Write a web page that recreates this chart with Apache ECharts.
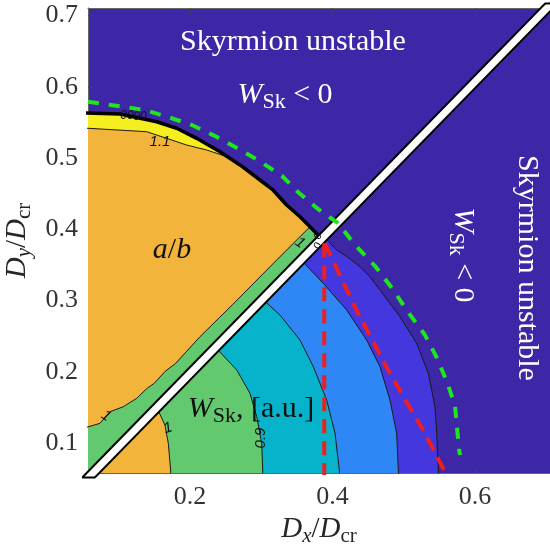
<!DOCTYPE html>
<html>
<head>
<meta charset="utf-8">
<script src="https://cdn.jsdelivr.net/npm/echarts@6/dist/echarts.min.js"></script>
<style>
  html, body { margin: 0; padding: 0; background: #fff; }
  #chart { width: 550px; height: 549px; }
</style>
</head>
<body>
<div id="chart"></div>
<script>
const xTicks = [0.2, 0.4, 0.6];
const yTicks = [0.1, 0.2, 0.3, 0.4, 0.5, 0.6, 0.7];

// contour bands below the diagonal, each arc runs from the diagonal down to the bottom edge
const arcPurple = [[0.389, 0.389], [0.4059, 0.3709], [0.42, 0.362], [0.4386, 0.3475], [0.452, 0.334], [0.4667, 0.3148],
  [0.4948, 0.2773], [0.5182, 0.24], [0.5345, 0.1979], [0.5439, 0.151], [0.5463, 0.1137], [0.5485, 0.0622], [0.549, 0.05]];
const arcBlue = [[0.356, 0.357], [0.3871, 0.3242], [0.42, 0.2867], [0.448, 0.2446], [0.4667, 0.2072],
  [0.4807, 0.1604], [0.4901, 0.1137], [0.4924, 0.0622], [0.493, 0.05]];
const arcCyan = [[0.302, 0.3018], [0.3263, 0.2797], [0.3544, 0.2446], [0.3731, 0.2072], [0.3919, 0.1604],
  [0.4036, 0.1137], [0.4096, 0.0622], [0.41, 0.05]];
const arcGreen = [[0.236, 0.2342], [0.2656, 0.2025], [0.2842, 0.1698], [0.2937, 0.137], [0.3007, 0.0997],
  [0.3021, 0.0622], [0.3022, 0.05]];
const arcOrange = [[0.1535, 0.1498], [0.1649, 0.1253], [0.1696, 0.0997], [0.1729, 0.0622], [0.173, 0.05]];

// stable region above the diagonal
const edgeBlack = [[0.05, 0.5632], [0.1018, 0.5618], [0.1533, 0.551], [0.1814, 0.5418], [0.2094, 0.5277],
  [0.2421, 0.5089], [0.2702, 0.4903], [0.2983, 0.4692], [0.3165, 0.4552], [0.3357, 0.4341],
  [0.3544, 0.4177], [0.3685, 0.4037], [0.385, 0.3868]];
const contour11 = [[0.05, 0.5418], [0.0569, 0.5418], [0.1393, 0.537], [0.1954, 0.5183], [0.2235, 0.5113],
  [0.2516, 0.5019], [0.2632, 0.4959]];
const edgeGreenStrip = [[0.05, 0.1207], [0.0737, 0.1277], [0.0878, 0.144], [0.1064, 0.151], [0.1252, 0.1628],
  [0.14, 0.177], [0.15, 0.184], [0.165, 0.2005], [0.18, 0.212], [0.2141, 0.2493], [0.26, 0.2945],
  [0.3217, 0.3569], [0.3685, 0.4037]];

const diagonal = [[0.05, 0.0438], [0.72, 0.7299]];
const redVertical = [[0.3885, 0.3803], [0.3885, 0.05]];
const redSlanted = [[0.3892, 0.3804], [0.4337, 0.2866], [0.4804, 0.1982], [0.5272, 0.1183], [0.5553, 0.0645], [0.559, 0.0575]];
const greenCircle = [[0.0569, 0.5791], [0.1369, 0.5674], [0.1692, 0.5576], [0.2028, 0.5464], [0.2351, 0.5309],
  [0.266, 0.5141], [0.2955, 0.4973], [0.3292, 0.4748], [0.3516, 0.4523], [0.3797, 0.4285], [0.4078, 0.4088],
  [0.4317, 0.3779], [0.4597, 0.3484], [0.4836, 0.3175], [0.506, 0.2839], [0.5299, 0.2516], [0.5467, 0.2193],
  [0.5608, 0.1857], [0.572, 0.152], [0.5776, 0.0917], [0.579, 0.0832]];

const COLORS = {
  unstable: "#3D27A6",
  purple: "#4537DE",
  blue: "#2E87F5",
  cyan: "#07B3CA",
  green: "#62C96F",
  orange: "#F2B43A",
  yellow: "#F5EF22"
};
const SERIF = "Liberation Serif";
const corner = [0.05, 0.0438];

function polygonSeries(points, color, z) {
  return {
    type: "custom",
    coordinateSystem: "cartesian2d",
    clip: true,
    silent: true,
    z,
    data: points,
    renderItem(params, api) {
      if (params.dataIndex !== 0) {
        return null;
      }
      return {
        type: "polygon",
        shape: { points: points.map((p) => api.coord(p)) },
        style: { fill: color }
      };
    }
  };
}

function lineSeries(points, color, width, type, z) {
  return {
    type: "line",
    data: points,
    showSymbol: false,
    silent: true,
    animation: false,
    z,
    lineStyle: { color, width, type: type || "solid", cap: "butt" }
  };
}

const upperEnd = contour11[contour11.length - 1][0];

const series = [
  polygonSeries([...arcPurple, corner], COLORS.purple, 1),
  polygonSeries([...arcBlue, corner], COLORS.blue, 1),
  polygonSeries([...arcCyan, corner], COLORS.cyan, 1),
  polygonSeries([...arcGreen, corner], COLORS.green, 1),
  polygonSeries([...arcOrange, corner], COLORS.orange, 1),
  polygonSeries([corner, ...edgeBlack], COLORS.yellow, 1),
  polygonSeries([corner, ...contour11, ...edgeBlack.filter((p) => p[0] > upperEnd)], COLORS.orange, 1),
  polygonSeries([corner, ...edgeGreenStrip, edgeBlack[edgeBlack.length - 1]], COLORS.green, 1),
  lineSeries(arcPurple, "#1a1a1a", 1, "solid", 3),
  lineSeries(arcBlue, "#1a1a1a", 1, "solid", 3),
  lineSeries(arcCyan, "#1a1a1a", 1, "solid", 3),
  lineSeries(arcGreen, "#1a1a1a", 1, "solid", 3),
  lineSeries(arcOrange, "#1a1a1a", 1, "solid", 3),
  lineSeries(contour11, "#1a1a1a", 1, "solid", 3),
  lineSeries(edgeGreenStrip, "#1a1a1a", 1, "solid", 3),
  lineSeries(edgeBlack, "#000", 3.5, "solid", 4),
  lineSeries(diagonal, "#000", 11, "solid", 5),
  lineSeries(diagonal, "#fff", 7, "solid", 6),
  lineSeries(redVertical, "#F01E1E", 4, [14, 8], 7),
  lineSeries(redSlanted, "#F01E1E", 4, [14, 8], 7),
  lineSeries(greenCircle, "#1EE61E", 4, [11, 10], 7)
];

const mathRich = (size, color) => ({
  i: { fontFamily: SERIF, fontStyle: "italic", fontSize: size, color, lineHeight: size + 6 },
  n: { fontFamily: SERIF, fontSize: size, color, lineHeight: size + 6 },
  s: { fontFamily: SERIF, fontSize: Math.round(size * 0.72), color, verticalAlign: "bottom", lineHeight: Math.round(size * 0.6) },
  si: { fontFamily: SERIF, fontStyle: "italic", fontSize: Math.round(size * 0.72), color, verticalAlign: "bottom", lineHeight: Math.round(size * 0.6) }
});

function label(text, x, y, size, color, rotation) {
  return {
    type: "text",
    x, y,
    rotation: rotation || 0,
    silent: true,
    z: 100,
    style: {
      text,
      rich: mathRich(size, color),
      fill: color,
      font: `${size}px "${SERIF}"`,
      align: "center",
      verticalAlign: "middle"
    }
  };
}

function smallLabel(text, x, y, rotation, size) {
  return {
    type: "text",
    x, y,
    rotation: rotation || 0,
    silent: true,
    z: 100,
    style: {
      text,
      fill: "#111",
      font: `italic ${size || 15}px "Liberation Sans"`,
      align: "center",
      verticalAlign: "middle"
    }
  };
}

const chart = echarts.init(document.getElementById("chart"));
chart.setOption({
  animation: false,
  grid: {
    left: 88, top: 8, right: 0, bottom: 76,
    outerBoundsMode: "none",
    containLabel: false,
    show: true,
    backgroundColor: COLORS.unstable,
    borderWidth: 0
  },
  xAxis: [
    {
      type: "value",
      min: 0.0569, max: 0.7053,
      name: "{i|D}{si|x}{n|/}{i|D}{s|cr}",
      nameLocation: "middle",
      nameGap: 39,
      nameTextStyle: { rich: mathRich(29, "#262626") },
      axisLine: { onZero: false, lineStyle: { color: "#666", width: 1 } },
      axisTick: { inside: true, length: 5, customValues: xTicks, lineStyle: { color: "#444" } },
      axisLabel: {
        customValues: xTicks,
        formatter: (v) => v.toFixed(1),
        fontFamily: SERIF, fontSize: 26, color: "#333", margin: 11
      },
      splitLine: { show: false }
    },
    {
      type: "value",
      position: "top",
      min: 0.0569, max: 0.7053,
      axisLine: { onZero: false, lineStyle: { color: "#666", width: 1 } },
      axisTick: { inside: true, length: 5, customValues: xTicks, lineStyle: { color: "#444" } },
      axisLabel: { show: false },
      splitLine: { show: false }
    }
  ],
  yAxis: {
    type: "value",
    min: 0.058, max: 0.7106,
    name: "{i|D}{si|y}{n|/}{i|D}{s|cr}",
    nameLocation: "middle",
    nameGap: 51,
    nameRotate: 90,
    nameTextStyle: { rich: mathRich(29, "#262626") },
    axisLine: { onZero: false, lineStyle: { color: "#666", width: 1 } },
    axisTick: { inside: true, length: 5, customValues: yTicks, lineStyle: { color: "#444" } },
    axisLabel: {
      customValues: yTicks,
      formatter: (v) => v.toFixed(1),
      fontFamily: SERIF, fontSize: 26, color: "#333", margin: 10
    },
    splitLine: { show: false }
  },
  graphic: [
    label("{n|Skyrmion unstable}", 293, 42, 30, "#fff"),
    label("{i|W}{s|Sk}{n| < 0}", 285, 95, 30, "#fff"),
    label("{n|Skyrmion unstable}", 527, 268, 30, "#fff", -Math.PI / 2),
    label("{i|W}{s|Sk}{n| < 0}", 463, 255, 30, "#fff", -Math.PI / 2),
    label("{i|a}{n|/}{i|b}", 172, 250, 30, "#111"),
    label("{i|W}{s|Sk}{n|, [a.u.]}", 251, 409, 30, "#111"),
    smallLabel("1.1", 160, 142),
    smallLabel("1", 106, 416, -0.6),
    smallLabel("1", 168, 428, 0.3),
    smallLabel("1", 300, 243, -0.6),
    smallLabel("0.9", 261, 438, Math.PI / 2),
    smallLabel("00", 127, 116, 0, 12),
    smallLabel("00", 140, 117, 0, 12),
    smallLabel("0", 318, 236, 1.2, 11),
    smallLabel("0", 318, 246, 1.2, 11)
  ],
  series
});
</script>
</body>
</html>
